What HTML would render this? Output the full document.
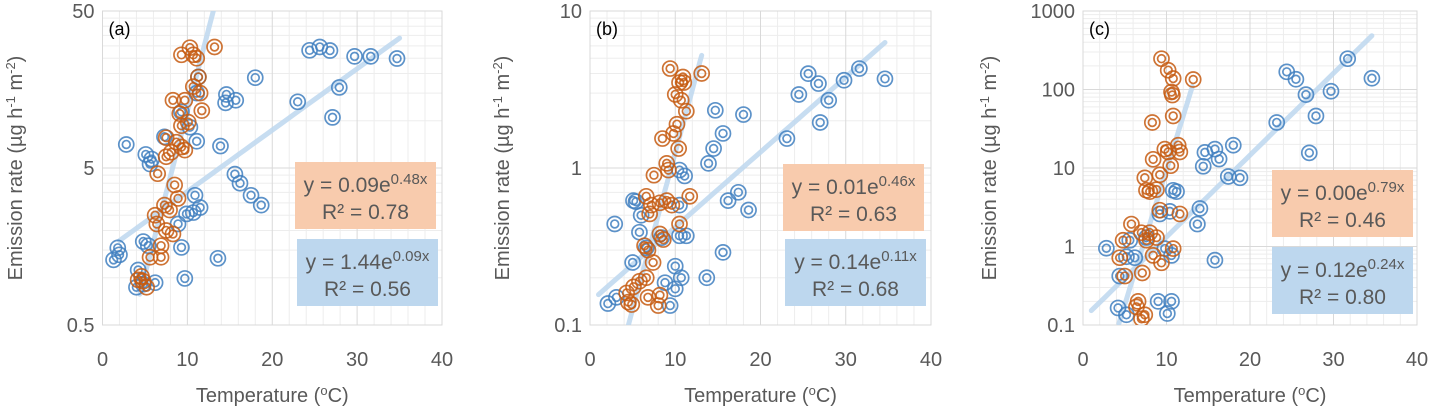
<!DOCTYPE html>
<html><head><meta charset="utf-8">
<style>
body{margin:0;background:#fff;width:1433px;height:408px;overflow:hidden;font-family:"Liberation Sans","DejaVu Sans",sans-serif}
svg text{font-family:"Liberation Sans","DejaVu Sans",sans-serif}
</style></head>
<body>
<svg id="chart" width="1433" height="408" viewBox="0 0 1433 408" xmlns="http://www.w3.org/2000/svg"></svg>
<script>
// Panel (a)
const aBlueT=[24.4,25.6,26.8,29.7,31.6,34.7,18.0,27.9,14.6,15.7,14.5,23.0,27.1,2.8,13.9,5.1,5.8,5.6,11.1,10.3,9.3,7.3,15.6,16.2,17.5,18.7,10.9,11.5,10.7,9.9,8.9,9.3,13.6,9.7,1.3,1.8,2.0,4.8,5.4,4.2,4.0,6.2,4.8,11.3,11.1];
const aBlueV=[28.1,29.5,28,25.7,25.7,24.9,18.8,16.3,14.7,13.5,13.0,13.2,10.5,7.06,6.9,6.1,5.7,5.3,7.4,9.1,11.4,7.9,4.57,4.0,3.35,2.9,3.35,2.8,2.6,2.55,2.2,1.56,1.33,0.99,1.30,1.55,1.40,1.70,1.6,1.12,0.87,0.93,0.91,19,15];
const aOrT=[10.3,9.3,10.7,11.1,13.2,11.3,10.7,11.5,8.3,9.7,11.7,9.1,9.3,10.1,7.5,8.7,9.3,8.1,7.5,9.7,6.5,8.5,8.9,7.3,7.9,6.2,6.4,7.5,8.3,6.9,5.6,6.9,4.6,4.8,5.2,4.2];
const aOrV=[29.2,26.3,26.3,25,29.5,19,16.5,15,13.5,13.5,11.6,11.1,9.3,9.8,7.8,7.3,6.8,6.3,5.9,6.5,4.6,3.9,3.2,2.9,2.7,2.5,2.2,2.0,1.9,1.6,1.35,1.35,1.02,0.95,0.87,0.97];
// Panel (b)
const bBlueT=[25.6,26.8,29.8,31.6,34.6,24.5,28.0,27.0,23.1,14.7,18.0,15.6,14.5,13.9,10.5,11.1,17.4,16.2,18.6,2.9,5.1,5.4,6.0,5.8,10.5,11.3,10.5,15.6,13.7,5.0,10.0,10.7,8.8,10.0,2.1,3.1,9.4,8.4,6.6];
const bBlueV=[3.99,3.45,3.62,4.3,3.7,2.94,2.7,1.95,1.54,2.33,2.19,1.66,1.33,1.07,0.97,0.89,0.70,0.62,0.54,0.44,0.62,0.61,0.5,0.39,0.37,0.37,0.58,0.29,0.2,0.25,0.237,0.2,0.186,0.17,0.137,0.15,0.133,0.36,0.31];
const bOrT=[9.4,10.9,10.5,11.0,13.1,10.0,10.7,11.3,10.2,9.8,8.5,10.4,9.0,9.2,7.5,11.7,6.6,7.2,8.2,9.0,9.6,7.0,10.5,8.2,8.6,6.4,6.8,7.4,6.6,5.8,5.1,4.3,4.5,4.9,6.8,8.0,8.2];
const bOrV=[4.3,3.8,3.5,3.5,4.0,2.94,2.7,2.3,1.9,1.66,1.54,1.33,1.07,0.97,0.9,0.66,0.66,0.58,0.6,0.62,0.58,0.51,0.44,0.38,0.35,0.32,0.30,0.25,0.2,0.19,0.175,0.16,0.14,0.135,0.15,0.133,0.155];
// Panel (c)
const cBlueT=[31.7,24.4,25.5,26.7,29.7,34.6,27.9,23.2,27.1,14.6,15.8,18.0,16.3,14.4,17.4,18.8,10.8,11.2,14.0,13.7,15.8,2.8,5.2,6.2,4.4,9.2,10.4,9.8,10.6,9.0,10.6,10.1,4.2,5.2,7.6,5.6];
const cBlueV=[247,168,135,86,95,139,46,38,15.6,15.8,17.4,19.5,13,10.5,7.8,7.5,5.2,5.0,3.05,1.93,0.67,0.95,0.74,0.72,0.42,2.6,2.8,0.94,0.77,0.2,0.2,0.14,0.165,0.135,1.3,1.2];
const cOrT=[9.4,10.2,10.8,13.2,10.6,10.7,10.8,8.3,11.4,9.8,10.2,11.6,8.4,10.5,9.2,7.4,7.6,8.8,8.0,9.2,11.6,5.8,7.0,8.0,8.8,7.6,10.8,4.8,4.4,8.4,9.4,7.1,5.0,6.6,6.4,7.4,7.0];
const cOrV=[247,176,138,134,93,85,46,38,19.5,17.4,16,16,12.9,10.7,8.2,7.5,5.2,5.3,5.0,2.9,2.6,1.93,1.5,1.5,1.3,1.2,0.94,1.2,0.72,0.77,0.62,0.46,0.42,0.2,0.17,0.135,0.12];
// Fit coefficients [a, b, xStart, xEnd]
const aBlueFit=[1.44,0.09,2,35], aOrFit=[0.095,0.48,4.4,13.2];
const bBlueFit=[0.14,0.11,1,34.6], bOrFit=[0.0126,0.46,4.5,13.1];
const cBlueFit=[0.12,0.24,1,34.6], cOrFit=[0.0035,0.79,4.3,13.1];
const xTicks=[0,10,20,30,40];
const aYTicks=["0.5","5","50"], bYTicks=["0.1","1","10"], cYTicks=["0.1","1","10","100","1000"];
const aEq=["y = 0.09e","0.48x","R² = 0.78","y = 1.44e","0.09x","R² = 0.56"];
const bEq=["y = 0.01e","0.46x","R² = 0.63","y = 0.14e","0.11x","R² = 0.68"];
const cEq=["y = 0.00e","0.79x","R² = 0.46","y = 0.12e","0.24x","R² = 0.80"];

const NS="http://www.w3.org/2000/svg";
const svg=document.getElementById('chart');
function mk(tag,attrs,parent){const e=document.createElementNS(NS,tag);for(const k in attrs)e.setAttribute(k,attrs[k]);(parent||svg).appendChild(e);return e;}

function panel(cfg){
  const g=mk('g',{});
  
  
  const {x0,x1,y0,y1,ymin,ymax}=cfg;
  const lmin=Math.log10(ymin),lmax=Math.log10(ymax);
  const X=t=>x0+(t/40)*(x1-x0);
  const Y=v=>y1-(Math.log10(v)-lmin)/(lmax-lmin)*(y1-y0);
  for(let t=2;t<40;t+=2){if(t%10)mk('line',{x1:X(t),x2:X(t),y1:y0,y2:y1,stroke:'#ededed','stroke-width':1},g);}
  for(let d=lmin;d<lmax;d++){for(let m=2;m<10;m++){const yy=Y(m*Math.pow(10,d));mk('line',{x1:x0,x2:x1,y1:yy,y2:yy,stroke:'#ededed','stroke-width':1},g);}}
  for(let t=10;t<40;t+=10)mk('line',{x1:X(t),x2:X(t),y1:y0,y2:y1,stroke:'#d9d9d9','stroke-width':1},g);
  for(let d=lmin+1;d<lmax;d++){const yy=Y(Math.pow(10,d));mk('line',{x1:x0,x2:x1,y1:yy,y2:yy,stroke:'#d9d9d9','stroke-width':1},g);}
  const frame=mk('rect',{x:x0,y:y0,width:x1-x0,height:y1-y0,fill:'none',stroke:'#d9d9d9','stroke-width':1},g);
  
  
  xTicks.forEach(t=>{const tx=mk('text',{x:X(t),y:366,'text-anchor':'middle','font-size':20,fill:'#595959'},g);tx.textContent=t;
    
    });
  cfg.yt.forEach(s=>{const ty=mk('text',{x:x0-8,y:Y(parseFloat(s))+7,'text-anchor':'end','font-size':20,fill:'#595959'},g);ty.textContent=s;
    
    });
  const xt=mk('text',{x:(x0+x1)/2,y:402,'text-anchor':'middle','font-size':20,fill:'#595959'},g);
  xt.innerHTML='Temperature (<tspan dy="-7" font-size="13">o</tspan><tspan dy="7">C)</tspan>';
  
  
  const yc=(y0+y1)/2;
  const yt=mk('text',{x:0,y:0,'text-anchor':'middle','font-size':20,fill:'#595959',transform:`translate(${cfg.ytx},${yc}) rotate(-90)`},g);
  yt.innerHTML='Emission rate (µg h<tspan dy="-7" font-size="13">-1</tspan><tspan dy="7"> m</tspan><tspan dy="-7" font-size="13">-2</tspan><tspan dy="7">)</tspan>';
  
  
  const clipId='clip'+cfg.id;
  const cp=mk('clipPath',{id:clipId},g);mk('rect',{x:x0,y:y0,width:x1-x0,height:y1-y0},cp);
  const inner=mk('g',{'clip-path':`url(#${clipId})`},g);
  [[cfg.bf,'blue'],[cfg.of,'orange']].forEach(([f,n])=>{
    let d='';for(let i=0;i<=40;i++){const t=f[2]+(f[3]-f[2])*i/40;d+=(i?'L':'M')+X(t).toFixed(1)+','+Y(f[0]*Math.exp(f[1]*t)).toFixed(1);}
    const p=mk('path',{d:d,fill:'none',stroke:'#bdd7ee','stroke-width':5,'stroke-linecap':'round','stroke-opacity':0.85},inner);
    
    
  });
  function rings(T,V,col,n){T.forEach((t,i)=>{
    const c=mk('g',{},inner);
    
    
    mk('circle',{cx:X(t),cy:Y(V[i]),r:7.5,fill:'none',stroke:col,'stroke-width':1.7,'stroke-opacity':0.85},c);
    mk('circle',{cx:X(t),cy:Y(V[i]),r:3.9,fill:'none',stroke:col,'stroke-width':1.7,'stroke-opacity':0.85},c);
  });}
  rings(cfg.bT,cfg.bV,'#3f7fbf','blue');
  rings(cfg.oT,cfg.oV,'#c55a11','orange');
  const lb=mk('text',{x:x0+6,y:y0+24,'font-size':18,fill:'#000'},g);lb.textContent='('+cfg.id+')';
  
  
  [[cfg.ob,'#f8cbad',0,'orange-equation-box'],[cfg.bb,'#bdd7ee',3,'blue-equation-box']].forEach(([b,fc,k,n])=>{
    const bg=mk('g',{},g);
    
    
    mk('rect',{x:b[0],y:b[1],width:b[2]-b[0],height:b[3]-b[1],fill:fc},bg);
    const cx=(b[0]+b[2])/2;
    const t1=mk('text',{x:cx,y:b[1]+30,'text-anchor':'middle','font-size':21,fill:'#595959'},bg);
    t1.innerHTML=cfg.eq[k]+'<tspan dy="-8" font-size="15">'+cfg.eq[k+1]+'</tspan>';
    const t2=mk('text',{x:cx,y:b[1]+57,'text-anchor':'middle','font-size':21,fill:'#595959'},bg);
    t2.textContent=cfg.eq[k+2];
  });
}
panel({id:'a',x0:102.5,x1:442,y0:11,y1:325,ymin:0.5,ymax:50,yt:aYTicks,ytx:22,bT:aBlueT,bV:aBlueV,oT:aOrT,oV:aOrV,bf:aBlueFit,of:aOrFit,eq:aEq,ob:[295,162,436,229],bb:[297,239,438,306]});
panel({id:'b',x0:590,x1:931,y0:11,y1:325,ymin:0.1,ymax:10,yt:bYTicks,ytx:509,bT:bBlueT,bV:bBlueV,oT:bOrT,oV:bOrV,bf:bBlueFit,of:bOrFit,eq:bEq,ob:[783,164,924,231],bb:[785,239,926,306]});
panel({id:'c',x0:1083,x1:1417,y0:11,y1:325,ymin:0.1,ymax:1000,yt:cYTicks,ytx:996,bT:cBlueT,bV:cBlueV,oT:cOrT,oV:cOrV,bf:cBlueFit,of:cOrFit,eq:cEq,ob:[1272,170,1413,237],bb:[1272,247,1413,314]});
</script>
</body></html>
